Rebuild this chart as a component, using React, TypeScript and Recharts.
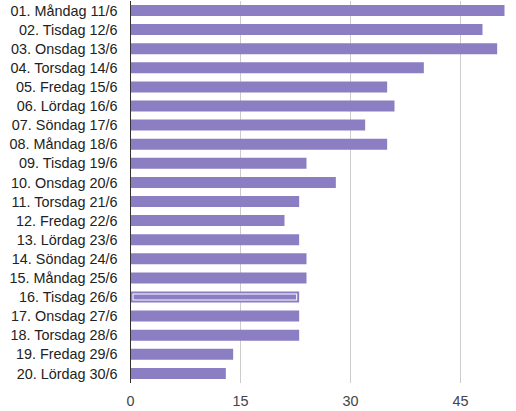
import React from 'react';
import { BarChart, Bar, XAxis, YAxis, CartesianGrid, Rectangle } from 'recharts';

const days = [
  '01. Måndag 11/6', '02. Tisdag 12/6', '03. Onsdag 13/6', '04. Torsdag 14/6', '05. Fredag 15/6',
  '06. Lördag 16/6', '07. Söndag 17/6', '08. Måndag 18/6', '09. Tisdag 19/6', '10. Onsdag 20/6',
  '11. Torsdag 21/6', '12. Fredag 22/6', '13. Lördag 23/6', '14. Söndag 24/6', '15. Måndag 25/6',
  '16. Tisdag 26/6', '17. Onsdag 27/6', '18. Torsdag 28/6', '19. Fredag 29/6', '20. Lördag 30/6',
];
const counts = [51, 48, 50, 40, 35, 36, 32, 35, 24, 28, 23, 21, 23, 24, 24, 23, 23, 23, 14, 13];
const xTicks = [0, 15, 30, 45];
const selectedDay = '16. Tisdag 26/6';

const data = days.map((day, i) => ({ day, value: counts[i] }));

const BarShape = (props: any) => {
  const { x, y, width, height, payload } = props;
  return (
    <g>
      <Rectangle x={x} y={y} width={width} height={height} fill="#8c7ec2" />
      {payload.day === selectedDay && (
        <rect x={x + 2.5} y={y + 2.5} width={width - 5} height={height - 5} fill="none" stroke="#fff" strokeWidth={1} />
      )}
    </g>
  );
};

export default function App() {
  return (
    <div style={{ fontFamily: '"Liberation Sans", Arial, sans-serif' }}>
      <style>{`body { margin: 0; }`}</style>
      <BarChart
        width={516}
        height={411}
        data={data}
        layout="vertical"
        margin={{ top: 1, right: 11.5, bottom: 0, left: 0 }}
      >
        <CartesianGrid horizontal={false} stroke="#cccccc" syncWithTicks />
        <XAxis
          type="number"
          domain={[0, 'dataMax']}
          ticks={xTicks}
          axisLine={false}
          tickLine={false}
          height={28}
          tickMargin={7}
          tick={{ fill: '#444', fontSize: 14.4 }}
        />
        <YAxis
          type="category"
          dataKey="day"
          width={130.5}
          interval={0}
          tickLine={false}
          tickMargin={7}
          axisLine={{ stroke: '#333' }}
          tick={{ fill: '#222', fontSize: 14.4 }}
        />
        <Bar dataKey="value" barSize={11} shape={BarShape} isAnimationActive={false} />
      </BarChart>
    </div>
  );
}
